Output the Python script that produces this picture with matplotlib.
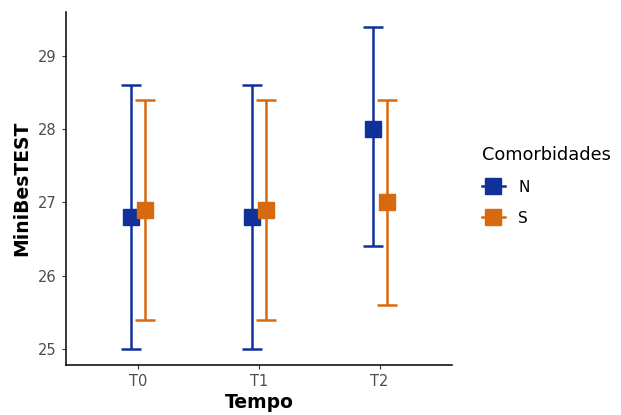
import numpy as np
import matplotlib.pyplot as plt
from matplotlib.lines import Line2D

plt.switch_backend('Agg')

# --- DATA ---
tempos = ['T0', 'T1', 'T2']
groups = ['N', 'S']
mean_n = [26.8, 26.8, 28.0]
low_n = [25.0, 25.0, 26.4]
high_n = [28.6, 28.6, 29.4]
mean_s = [26.9, 26.9, 27.0]
low_s = [25.4, 25.4, 25.6]
high_s = [28.4, 28.4, 28.4]

colors = {'N': '#10309A', 'S': '#D7690F'}

fig = plt.figure(figsize=(6.21, 4.15), dpi=100)
ax = fig.add_axes([66 / 621, 50 / 415, (452 - 66) / 621, (403 - 50) / 415])

x = np.arange(1, len(tempos) + 1)
dodge = 0.058
series = [('N', mean_n, low_n, high_n, -dodge), ('S', mean_s, low_s, high_s, dodge)]

for name, m, lo, hi, off in series:
    m, lo, hi = np.array(m), np.array(lo), np.array(hi)
    ax.errorbar(x + off, m, yerr=[m - lo, hi - m], fmt='none', ecolor=colors[name],
                elinewidth=1.8, capsize=7, capthick=1.8, zorder=2)
    ax.plot(x + off, m, 's', color=colors[name], markersize=12, zorder=3)

ax.set_xlim(0.4, 3.6)
ax.set_ylim(24.78, 29.6)
ax.set_xticks(x)
ax.set_xticklabels(tempos)
ax.set_yticks([25, 26, 27, 28, 29])
ax.tick_params(axis='both', colors='#333333', labelcolor='#4D4D4D', labelsize=10.5,
               length=3, width=0.8)
for s in ['top', 'right']:
    ax.spines[s].set_visible(False)
for s in ['left', 'bottom']:
    ax.spines[s].set_linewidth(1.1)

ax.set_xlabel('Tempo', fontsize=13.5, fontweight='bold', labelpad=3)
ax.set_ylabel('MiniBesTEST', fontsize=13.5, fontweight='bold', labelpad=5)

handles = [Line2D([0], [0], color=colors[g], marker='s', markersize=12, lw=1.8) for g in groups]
leg = fig.legend(handles, groups, title='Comorbidades', loc='upper left',
                 bbox_to_anchor=(477 / 621, 1 - 141 / 415), frameon=False,
                 fontsize=11, title_fontsize=12.8, handlelength=1.5, labelspacing=1.05,
                 handletextpad=0.9, borderaxespad=0, borderpad=0.3)
leg._legend_box.align = 'left'

fig.savefig('out.png', dpi=100)
